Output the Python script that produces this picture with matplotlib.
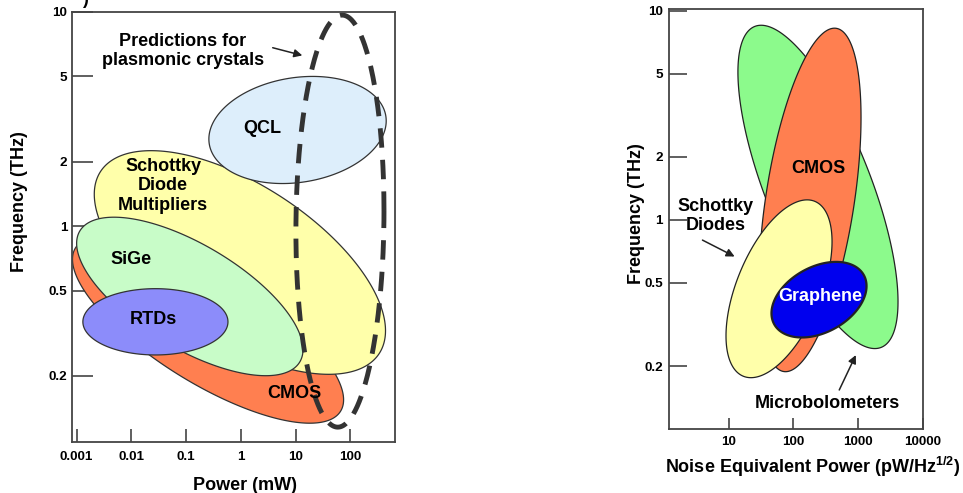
import numpy as np
import matplotlib.pyplot as plt

plt.rcParams["font.family"] = ["Liberation Sans", "DejaVu Sans"]
plt.rcParams["font.weight"] = "bold"
plt.rcParams["mathtext.fontset"] = "custom"
plt.rcParams["mathtext.rm"] = "Liberation Sans:bold"
plt.rcParams["mathtext.bf"] = "Liberation Sans:bold"

# ------------------------------------------------------------------------------
# left panel: THz sources, power (mW) vs frequency (THz)
# each region: power range, frequency range, tilt (correlation of the ellipse)
src_names = ["CMOS", "Schottky\nDiode\nMultipliers", "SiGe", "RTDs", "QCL"]
src_power_lo = [0.00084, 0.0021, 0.001, 0.0013, 0.26]
src_power_hi = [75, 437, 13.6, 0.58, 450]
src_freq_lo = [0.12, 0.203, 0.2, 0.25, 1.58]
src_freq_hi = [0.9, 2.25, 1.1, 0.51, 5.0]
src_tilt = [-0.75, -0.61, -0.67, 0.0, 0.17]
src_label_x = [9.3, 0.038, 0.0099, 0.0248, 2.5]
src_label_y = [0.166, 1.54, 0.698, 0.366, 2.87]

# predictions for plasmonic crystals (dashed outline)
plas_power = [10.1, 410]
plas_freq = [0.115, 9.67]
plas_tilt = 0.05

# right panel: THz detectors, NEP vs frequency
det_names = ["Microbolometers", "CMOS", "Schottky\nDiodes", "Graphene"]
det_nep_lo = [13.9, 29.4, 9.1, 45.8]
det_nep_hi = [4110, 1104, 394, 1343]
det_freq_lo = [0.2425, 0.188, 0.176, 0.274]
det_freq_hi = [8.53, 8.26, 1.247, 0.63]
det_tilt = [-0.71, 0.48, 0.53, 0.36]

# tick values
src_xticks = [0.001, 0.01, 0.1, 1, 10, 100]
src_xticklabels = ["0.001", "0.01", "0.1", "1", "10", "100"]
det_xticks = [10, 100, 1000, 10000]
det_xticklabels = ["10", "100", "1000", "10000"]
freq_ticks = [0.2, 0.5, 1, 2, 5, 10]
freq_ticklabels = ["0.2", "0.5", "1", "2", "5", "10"]

# ------------------------------------------------------------------------------


def region(xlo, xhi, ylo, yhi, rho, n=400):
    # ellipse in log-log space spanning the given ranges
    t = np.linspace(0, 2 * np.pi, n)
    lx0, lx1 = np.log10(xlo), np.log10(xhi)
    ly0, ly1 = np.log10(ylo), np.log10(yhi)
    lx = 0.5 * (lx0 + lx1) + 0.5 * (lx1 - lx0) * np.cos(t)
    ly = 0.5 * (ly0 + ly1) + 0.5 * (ly1 - ly0) * np.cos(t - np.arccos(rho))
    return 10**lx, 10**ly


def style_axes(ax, ylen, xlen, ypad, xpad):
    ax.set_xscale("log")
    ax.set_yscale("log")
    ax.minorticks_off()
    ax.set_axisbelow(True)
    for s in ax.spines.values():
        s.set_color("#444444")
        s.set_linewidth(1.3)
    ax.tick_params(axis="y", direction="in", length=ylen, width=1.2,
                   color="#444444", pad=ypad, labelsize=9.7)
    ax.tick_params(axis="x", direction="in", length=xlen, width=1.2,
                   color="#444444", pad=xpad, labelsize=9.7)


fig = plt.figure(figsize=(9.63, 4.93), dpi=100)

# ---------------- left panel ----------------
ax1 = fig.add_axes([0.0748, 0.1034, 0.3354, 0.8723])
style_axes(ax1, 15, 9.4, 3.5, 6.5)

src_colors = ["#FF7F50", "#FFFFAA", "#C8FCC8", "#8C8CFA", "#DDEEFB"]
for i in range(len(src_names)):
    x, y = region(src_power_lo[i], src_power_hi[i], src_freq_lo[i],
                  src_freq_hi[i], src_tilt[i])
    ax1.fill(x, y, fc=src_colors[i], ec="#333333", lw=0.9, zorder=1 + i * 0.1)
    ax1.text(src_label_x[i], src_label_y[i], src_names[i], ha="center",
             va="center", fontsize=13, fontweight="bold", zorder=3,
             linespacing=1.2)

x, y = region(plas_power[0], plas_power[1], plas_freq[0], plas_freq[1], plas_tilt)
ax1.plot(x, y, color="#333333", lw=3.5, ls=(0, (4, 2.5)), zorder=2,
         solid_capstyle="butt", dash_capstyle="butt")
ax1.text(0.0877, 6.57, "Predictions for\nplasmonic crystals", ha="center",
         va="center", fontsize=13, fontweight="bold", zorder=3)
ax1.annotate("", xy=(14.8, 6.22), xytext=(3.4, 6.86),
             arrowprops=dict(arrowstyle="-|>", color="#222222", lw=1.1,
                             mutation_scale=12), zorder=3)

ax1.set_xlim(0.000824, 652)
ax1.set_ylim(0.098, 10)
ax1.set_xticks(src_xticks, src_xticklabels)
ax1.set_yticks(freq_ticks, freq_ticklabels)
ax1.set_xlabel("Power (mW)", fontsize=13, fontweight="bold")
ax1.set_ylabel("Frequency (THz)", fontsize=13, fontweight="bold")
ax1.xaxis.set_label_coords(0.536, -0.0814)
ax1.yaxis.set_label_coords(-0.137, 0.558)

# ---------------- right panel ----------------
ax2 = fig.add_axes([0.6947, 0.1298, 0.2638, 0.8519])
style_axes(ax2, 13, 8, 4.3, 5)

det_colors = ["#8CFA8C", "#FF7F50", "#FFFFAA", "#0000EE"]
det_edge_lw = [0.9, 0.9, 0.9, 1.6]
for i in range(len(det_names)):
    x, y = region(det_nep_lo[i], det_nep_hi[i], det_freq_lo[i],
                  det_freq_hi[i], det_tilt[i])
    ax2.fill(x, y, fc=det_colors[i], ec="#222222", lw=det_edge_lw[i],
             zorder=1 + i * 0.1)

ax2.text(239, 1.77, "CMOS", ha="center", va="center", fontsize=13,
         fontweight="bold", zorder=3)
ax2.text(257, 0.43, "Graphene", ha="center", va="center", fontsize=13,
         fontweight="bold", color="white", zorder=3)
ax2.text(6.38, 1.046, det_names[2], ha="center", va="center", fontsize=13,
         fontweight="bold", zorder=3, linespacing=1.2)
ax2.annotate("", xy=(13.5, 0.659), xytext=(3.61, 0.812),
             arrowprops=dict(arrowstyle="-|>", color="#222222", lw=1.1,
                             mutation_scale=12), zorder=3)
ax2.text(330, 0.132, det_names[0], ha="center", va="center", fontsize=13,
         fontweight="bold", zorder=3)
ax2.annotate("", xy=(957, 0.232), xytext=(488, 0.1495),
             arrowprops=dict(arrowstyle="-|>", color="#222222", lw=1.1,
                             mutation_scale=12), zorder=3)

ax2.set_xlim(1.2, 10000)
ax2.set_ylim(0.1, 10.2)
ax2.set_xticks(det_xticks, det_xticklabels)
ax2.set_yticks(freq_ticks, freq_ticklabels)
ax2.set_xlabel("Noise Equivalent Power (pW/Hz$^{\\mathbf{1/2}}$)", fontsize=13,
               fontweight="bold")
ax2.set_ylabel("Frequency (THz)", fontsize=13, fontweight="bold")
ax2.xaxis.set_label_coords(0.567, -0.062)
ax2.yaxis.set_label_coords(-0.094, 0.512)

# remnant of the panel letter, cut off at the top edge
fig.text(85 / 963, 1.0, ")", ha="center", va="center", fontsize=13)

fig.savefig("out.png", dpi=100)
